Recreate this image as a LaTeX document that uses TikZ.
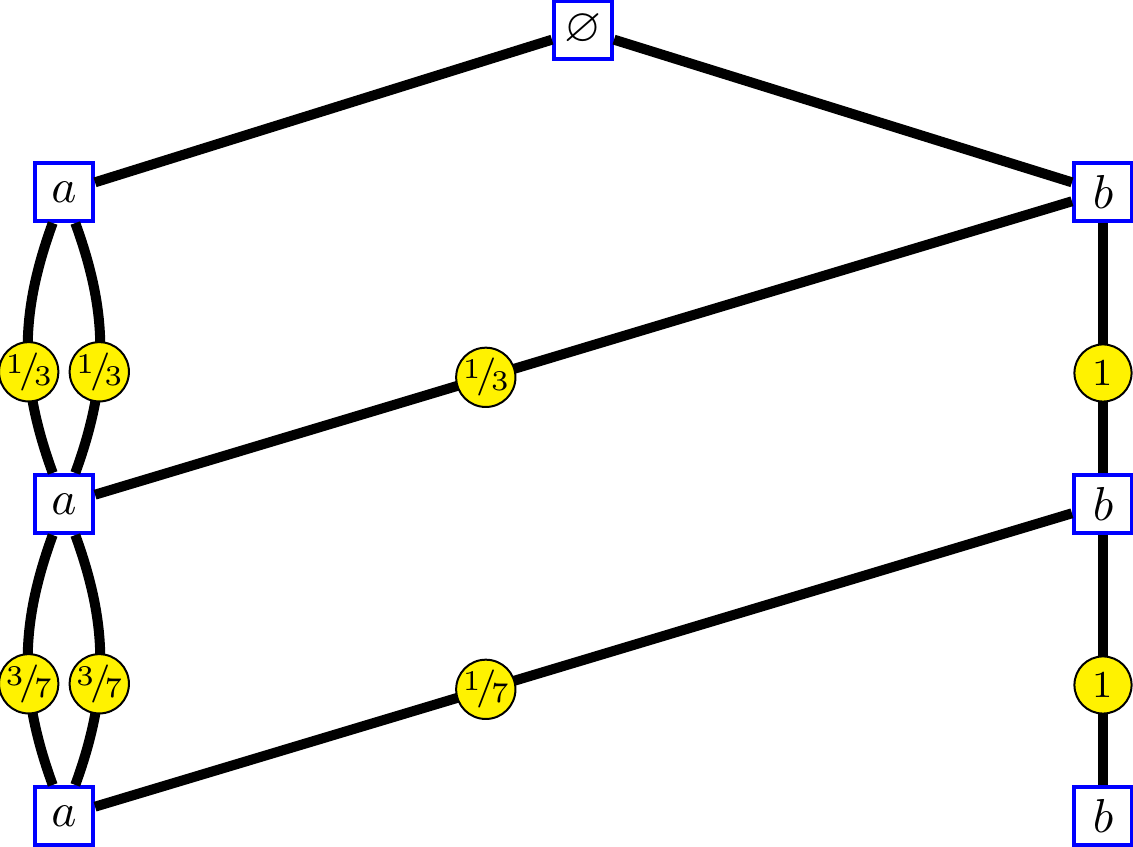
\documentclass[tikz,border=0pt]{standalone}
\usepackage{amssymb}
\newcommand{\nfr}[2]{\raisebox{.5ex}{$\scriptstyle #1$}\kern-.1em/\kern-.15em\raisebox{-.25ex}{$\scriptstyle #2$}}
\begin{document}
\begin{tikzpicture}[x=0.21pt,y=-0.21pt,
  vbox/.style={draw=blue,line width=0.84pt,fill=white,minimum size=12.2pt,inner sep=0pt},
  wt/.style={circle,draw=black,line width=0.42pt,fill=yellow,minimum size=12pt,inner sep=0pt,font=\footnotesize},
  conn/.style={line width=2.1pt}]
\useasboundingbox (0,0) rectangle (1133,847);
\node[vbox] (e) at (583,30) {$\varnothing$};
\node[vbox] (a1) at (64,192) {$a$};
\node[vbox] (a2) at (64,504) {$a$};
\node[vbox] (a3) at (64,816) {$a$};
\node[vbox] (b1) at (1103,192) {$b$};
\node[vbox] (b2) at (1103,504) {$b$};
\node[vbox] (b3) at (1103,816) {$b$};
\draw[conn] (e) -- (a1);
\draw[conn] (e) -- (b1);
\draw[conn] (b1) -- node[wt,pos=0.6] (w1) {\nfr{1}{3}} (a2);
\draw[conn] (b2) -- node[wt,pos=0.6] (w2) {\nfr{1}{7}} (a3);
\draw[conn] (b1) -- node[wt,pos=0.6] (w3) {1} (b2);
\draw[conn] (b2) -- node[wt,pos=0.6] (w4) {1} (b3);
\draw[conn] (a1) to[bend right=20] node[wt,pos=0.6] (w5) {\nfr{1}{3}} (a2);
\draw[conn] (a1) to[bend left=20] node[wt,pos=0.6] (w6) {\nfr{1}{3}} (a2);
\draw[conn] (a2) to[bend right=20] node[wt,pos=0.6] (w7) {\nfr{3}{7}} (a3);
\draw[conn] (a2) to[bend left=20] node[wt,pos=0.6] (w8) {\nfr{3}{7}} (a3);
\end{tikzpicture}
\end{document}
